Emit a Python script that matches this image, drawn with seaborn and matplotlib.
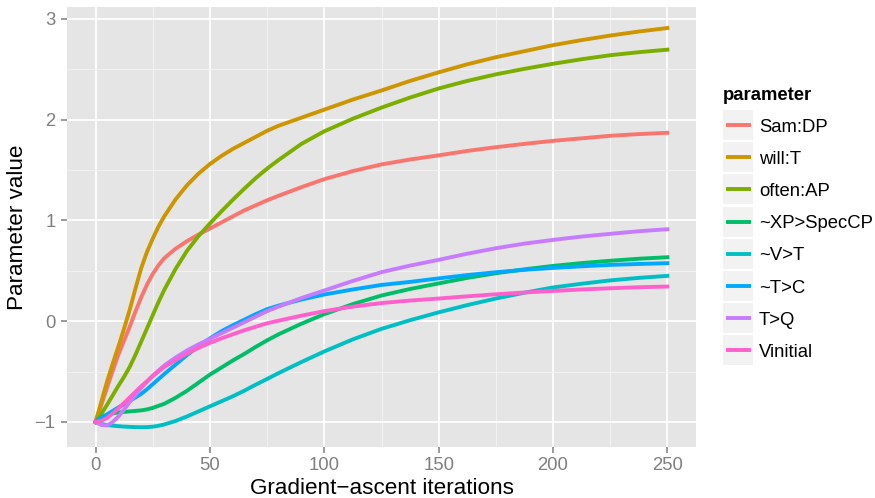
import numpy as np
import pandas as pd
import matplotlib
matplotlib.use("Agg")
import matplotlib.pyplot as plt
from matplotlib.patches import Rectangle
from matplotlib.lines import Line2D
import seaborn as sns

# ---------------- data ----------------
iterations = [0, 2.5, 5, 7.5, 10, 12.5, 15, 17.5, 20, 22.5, 25, 27.5, 30, 35, 40, 45, 50,
              55, 60, 65, 70, 75, 80, 90, 100, 112.5, 125, 137.5, 150, 162.5, 175, 187.5,
              200, 212.5, 225, 237.5, 250]

sam_dp = [-1, -0.83, -0.66, -0.49, -0.33, -0.19, -0.05, 0.10, 0.24, 0.365, 0.47, 0.555, 0.625,
          0.72, 0.795, 0.86, 0.92, 0.98, 1.04, 1.10, 1.15, 1.20, 1.245, 1.33, 1.41, 1.49,
          1.556, 1.605, 1.646, 1.69, 1.727, 1.76, 1.79, 1.815, 1.84, 1.857, 1.87]
will_t = [-1, -0.80, -0.60, -0.42, -0.25, -0.07, 0.12, 0.33, 0.53, 0.69, 0.82, 0.94, 1.04,
          1.21, 1.35, 1.465, 1.56, 1.64, 1.71, 1.77, 1.83, 1.89, 1.94, 2.02, 2.10, 2.20,
          2.29, 2.385, 2.47, 2.55, 2.62, 2.68, 2.74, 2.79, 2.835, 2.875, 2.91]
often_ap = [-1, -0.92, -0.83, -0.735, -0.64, -0.55, -0.45, -0.33, -0.20, -0.07, 0.06, 0.19,
            0.31, 0.52, 0.70, 0.845, 0.97, 1.09, 1.205, 1.315, 1.42, 1.515, 1.60, 1.76, 1.885,
            2.01, 2.12, 2.22, 2.31, 2.385, 2.45, 2.505, 2.555, 2.60, 2.64, 2.67, 2.695]
xp_speccp = [-1, -0.95, -0.93, -0.915, -0.905, -0.90, -0.895, -0.89, -0.885, -0.875, -0.86,
             -0.84, -0.82, -0.76, -0.69, -0.61, -0.53, -0.46, -0.39, -0.325, -0.255, -0.19,
             -0.13, -0.025, 0.07, 0.17, 0.255, 0.32, 0.375, 0.43, 0.476, 0.515, 0.549, 0.577,
             0.60, 0.62, 0.635]
v_t = [-1, -1.02, -1.03, -1.037, -1.042, -1.046, -1.049, -1.051, -1.052, -1.051, -1.047,
       -1.038, -1.025, -0.99, -0.945, -0.895, -0.845, -0.795, -0.745, -0.69, -0.63, -0.573,
       -0.515, -0.405, -0.30, -0.18, -0.076, 0.01, 0.088, 0.16, 0.225, 0.283, 0.335, 0.372,
       0.405, 0.43, 0.45]
t_c = [-1, -0.96, -0.925, -0.89, -0.855, -0.822, -0.79, -0.755, -0.72, -0.675, -0.625,
       -0.575, -0.525, -0.43, -0.335, -0.25, -0.17, -0.10, -0.04, 0.015, 0.07, 0.12, 0.155,
       0.215, 0.265, 0.315, 0.36, 0.39, 0.425, 0.458, 0.486, 0.51, 0.529, 0.545, 0.559,
       0.568, 0.576]
t_q = [-1, -1.03, -1.035, -1.0, -0.945, -0.875, -0.80, -0.73, -0.66, -0.60, -0.54, -0.49,
       -0.44, -0.36, -0.29, -0.23, -0.175, -0.12, -0.065, -0.01, 0.045, 0.10, 0.145, 0.23,
       0.305, 0.40, 0.487, 0.552, 0.609, 0.67, 0.724, 0.77, 0.807, 0.84, 0.867, 0.893, 0.913]
vinitial = [-1, -0.99, -0.96, -0.915, -0.865, -0.81, -0.755, -0.70, -0.645, -0.595, -0.545,
            -0.50, -0.455, -0.385, -0.32, -0.265, -0.215, -0.17, -0.13, -0.09, -0.055, -0.02,
            0.005, 0.055, 0.10, 0.145, 0.18, 0.205, 0.225, 0.247, 0.267, 0.285, 0.30, 0.315,
            0.327, 0.337, 0.344]

parameters = ["Sam:DP", "will:T", "often:AP", "~XP>SpecCP", "~V>T", "~T>C", "T>Q", "Vinitial"]
series = [sam_dp, will_t, often_ap, xp_speccp, v_t, t_c, t_q, vinitial]
colors = ["#F8766D", "#CD9600", "#7CAE00", "#00BE67", "#00BFC4", "#00A9FF", "#C77CFF", "#FF61CC"]

x_ticks = [0, 50, 100, 150, 200, 250]
y_ticks = [-1, 0, 1, 2, 3]

df = pd.DataFrame({
    "iteration": np.tile(iterations, len(parameters)),
    "value": np.concatenate(series),
    "parameter": np.repeat(parameters, len(iterations)),
})

# ---------------- figure ----------------
W, H = 875, 498
fig = plt.figure(figsize=(W / 100, H / 100), dpi=100)
plt.rcParams["font.family"] = ["Liberation Sans", "DejaVu Sans"]

L, R, T, B = 67, 696, 7, 447
ax = fig.add_axes([L / W, 1 - B / H, (R - L) / W, (B - T) / H])
ax.set_facecolor("#E5E5E5")

palette = dict(zip(parameters, colors))
sns.lineplot(data=df, x="iteration", y="value", hue="parameter", hue_order=parameters,
             palette=palette, linewidth=2.8, legend=False, ax=ax, zorder=3)
for ln in ax.lines:
    ln.set_solid_joinstyle("round")

ax.set_xlim(-12.5, 262.5)
ax.set_ylim(-1.2485, 3.1185)
ax.set_xticks(x_ticks)
ax.set_yticks(y_ticks)
ax.set_xticks([25, 75, 125, 175, 225], minor=True)
ax.set_yticks([-0.5, 0.5, 1.5, 2.5], minor=True)
ax.grid(which="major", color="white", linewidth=1.25, zorder=1)
ax.grid(which="minor", color="#F2F2F2", linewidth=0.7, zorder=1)
ax.set_axisbelow(True)
for s in ax.spines.values():
    s.set_visible(False)

ax.tick_params(which="major", length=4.3, width=1.1, color="#7F7F7F",
               labelcolor="#7F7F7F", labelsize=13.3, pad=3)
ax.tick_params(axis="y", pad=4)
ax.tick_params(which="minor", length=0)

ax.set_xlabel("Gradient\u2212ascent iterations", fontsize=16.2, color="black")
ax.xaxis.set_label_coords(0.5, (B - 494) / (B - T))
ax.xaxis.label.set_va("baseline")
ax.set_ylabel("Parameter value", fontsize=16.2, color="black", va="center")
ax.yaxis.set_label_coords((17.5 - L) / (R - L), 0.5)

# ---------------- legend ----------------
def fx(px):
    return px / W

def fy(py):
    return 1 - py / H

fig.text(fx(722.7), fy(100), "parameter", fontsize=13.3, fontweight="bold",
         ha="left", va="baseline")
pitch = 32.2
for i, (name, col) in enumerate(zip(parameters, colors)):
    cy = 125 + pitch * i
    fig.patches.append(Rectangle((fx(722.7), fy(cy + 15)), 30.6 / W, 30 / H,
                                 transform=fig.transFigure, facecolor="#F2F2F2",
                                 edgecolor="none"))
    fig.lines.append(Line2D([fx(726), fx(750.7)], [fy(cy), fy(cy)],
                            transform=fig.transFigure, color=col, linewidth=2.8,
                            solid_capstyle="butt"))
    fig.text(fx(759), fy(cy + 6.6), name, fontsize=13.3, ha="left", va="baseline")

fig.savefig("out.png", dpi=100)
